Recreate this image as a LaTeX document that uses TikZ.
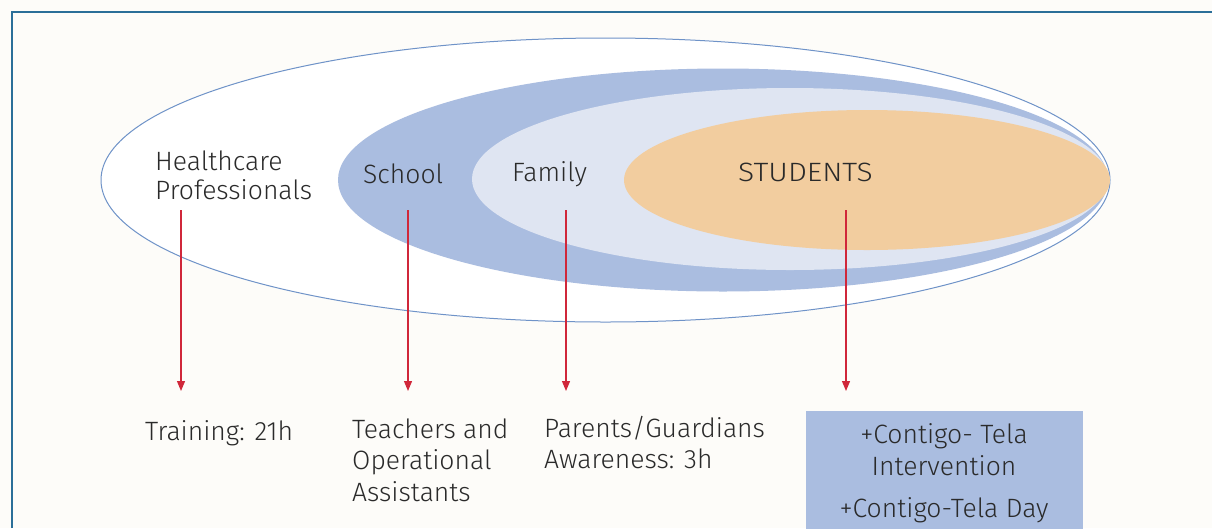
\documentclass[tikz,border=0pt]{standalone}
\usepackage{fontspec}
\setmainfont{Fira Sans}[UprightFont={* Light}]
\usetikzlibrary{arrows.meta}
\definecolor{bgc}{HTML}{FDFCF9}
\definecolor{framec}{HTML}{2B6F99}
\definecolor{outl}{HTML}{6F93C8}
\definecolor{schoolc}{HTML}{AABDE0}
\definecolor{familyc}{HTML}{DFE5F2}
\definecolor{studc}{HTML}{F2CD9F}
\definecolor{arrc}{HTML}{D0273A}
\definecolor{txtc}{HTML}{2A2A2A}
\tikzset{
  lbl/.style={text=txtc, font=\fontsize{26.5}{31}\selectfont, inner sep=0pt},
  lblleft/.style={lbl, anchor=base west},
  lblmid/.style={lbl, anchor=base},
  arr/.style={draw=arrc, line width=1.2pt, -{Triangle[length=10pt,width=8pt]}},
}
\begin{document}
\begin{tikzpicture}[x=1pt,y=-1pt]
\useasboundingbox (0,0) rectangle (1212,528);
\fill[bgc] (0,0) rectangle (1212,528);
\draw[framec, line width=2pt] (12,528) -- (12,12) -- (1213,12);
% ellipses
\filldraw[fill=white, draw=outl, line width=1pt] (605.5,180) ellipse [x radius=504.5pt, y radius=142pt];
\fill[schoolc] (723,180) ellipse [x radius=385pt, y radius=111.5pt];
\fill[familyc] (790,179) ellipse [x radius=318pt, y radius=91pt];
\fill[studc] (867,180) ellipse [x radius=243pt, y radius=70pt];
% top labels
\node[lblleft] (hc1) at (155,170) {Healthcare};
\node[lblleft] (hc2) at (155,199) {Professionals};
\node[lblleft] (school) at (363,183) {School};
\node[lblleft] (family) at (512,181) {Family};
\node[lblleft] (stud) at (738,181) {\scalebox{1.13}[1]{STUDENTS}};
% arrow coordinates
\coordinate (a1s) at (181,210); \coordinate (a1e) at (181,391);
\coordinate (a2s) at (408,210); \coordinate (a2e) at (408,391);
\coordinate (a3s) at (566,210); \coordinate (a3e) at (566,391);
\coordinate (a4s) at (846,210); \coordinate (a4e) at (846,391);
\draw[arr] (a1s) -- (a1e);
\draw[arr] (a2s) -- (a2e);
\draw[arr] (a3s) -- (a3e);
\draw[arr] (a4s) -- (a4e);
% bottom labels
\node[lblleft] (train) at (145,440) {Training: 21h};
\node[lblleft] (teach1) at (352,438) {Teachers and};
\node[lblleft] (teach2) at (352,469.5) {Operational};
\node[lblleft] (teach3) at (352,501) {Assistants};
\node[lblleft] (par1) at (544,437) {Parents/Guardians};
\node[lblleft] (par2) at (544,468) {Awareness: 3h};
\fill[schoolc] (806,411) rectangle (1083,530);
\node[lblmid] (int1) at (944,443) {+Contigo- Tela};
\node[lblmid] (int2) at (944,475) {Intervention};
\node[lblmid] (day) at (944,517) {+Contigo-Tela Day};
\end{tikzpicture}
\end{document}
